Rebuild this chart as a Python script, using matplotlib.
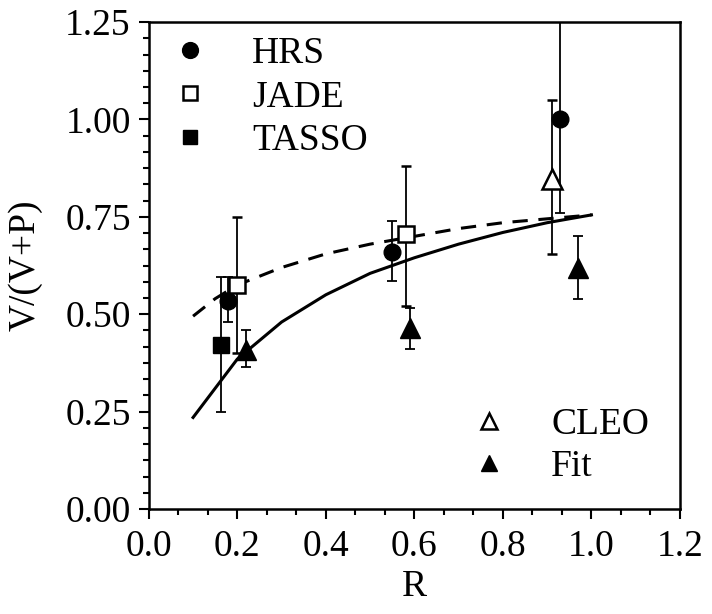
import matplotlib
matplotlib.use('Agg')
import matplotlib.pyplot as plt
from matplotlib.ticker import MultipleLocator, AutoMinorLocator

plt.rcParams['font.family'] = ['Liberation Serif', 'DejaVu Serif']

# data
hrs_r = [0.18, 0.55, 0.93]
hrs_v = [0.535, 0.66, 1.00]
hrs_lo = [0.48, 0.585, 0.76]
hrs_hi = [0.595, 0.74, 1.40]

jade_r = [0.20, 0.58]
jade_v = [0.575, 0.705]
jade_lo = [0.40, 0.52]
jade_hi = [0.75, 0.88]

tasso_r = [0.163]
tasso_v = [0.42]
tasso_lo = [0.25]
tasso_hi = [0.595]

cleo_r = [0.91]
cleo_v = [0.847]
cleo_lo = [0.655]
cleo_hi = [1.05]

fit_r = [0.22, 0.59, 0.97]
fit_v = [0.408, 0.465, 0.62]
fit_lo = [0.365, 0.41, 0.54]
fit_hi = [0.46, 0.515, 0.70]

curve_r = [0.1, 0.15, 0.2, 0.3, 0.4, 0.5, 0.6, 0.7, 0.8, 0.9, 1.0]
solid_v = [0.235, 0.31, 0.385, 0.48, 0.55, 0.605, 0.645, 0.68, 0.71, 0.735, 0.755]
dashed_v = [0.495, 0.54, 0.575, 0.62, 0.655, 0.68, 0.70, 0.72, 0.735, 0.745, 0.755]

fig = plt.figure(figsize=(7.12, 6.14), dpi=100)
ax = fig.add_axes([0.209, 0.171, 0.746, 0.793])

ax.plot(curve_r, solid_v, color='black', lw=2.2)
ax.plot(curve_r, dashed_v, color='black', lw=2.2, dashes=(5, 3.5))


def err(vals, lo, hi):
    return [[v - l for v, l in zip(vals, lo)], [h - v for v, h in zip(vals, hi)]]


eb = dict(ecolor='black', elinewidth=1.3, capsize=3.5, capthick=1.3, ls='none')
h_hrs = ax.errorbar(hrs_r, hrs_v, yerr=err(hrs_v, hrs_lo, hrs_hi), fmt='o', ms=12,
                    mfc='black', mec='black', **eb)
h_jade = ax.errorbar(jade_r, jade_v, yerr=err(jade_v, jade_lo, jade_hi), fmt='s', ms=11,
                     mfc='white', mec='black', mew=1.8, **eb)
h_tasso = ax.errorbar(tasso_r, tasso_v, yerr=err(tasso_v, tasso_lo, tasso_hi), fmt='s', ms=11,
                      mfc='black', mec='black', **eb)
h_cleo = ax.errorbar(cleo_r, cleo_v, yerr=err(cleo_v, cleo_lo, cleo_hi), fmt='^', ms=15,
                     mfc='white', mec='black', mew=1.8, **eb)
h_fit = ax.errorbar(fit_r, fit_v, yerr=err(fit_v, fit_lo, fit_hi), fmt='^', ms=15,
                    mfc='black', mec='black', **eb)

ax.set_xlim(0, 1.2)
ax.set_ylim(0, 1.25)
ax.xaxis.set_major_locator(MultipleLocator(0.2))
ax.xaxis.set_minor_locator(AutoMinorLocator(3))
ax.yaxis.set_major_locator(MultipleLocator(0.25))
ax.yaxis.set_minor_locator(AutoMinorLocator(6))
ax.xaxis.set_major_formatter(plt.FormatStrFormatter('%.1f'))
ax.yaxis.set_major_formatter(plt.FormatStrFormatter('%.2f'))
ax.tick_params(which='both', direction='out', labelsize=27, width=1.5, top=False, right=False)
ax.tick_params(which='major', length=7)
ax.tick_params(which='minor', length=4)
ax.tick_params(axis='x', which='major', pad=8)
ax.tick_params(axis='y', which='major', pad=6)
for s in ax.spines.values():
    s.set_linewidth(1.8)

ax.set_xlabel('R', fontsize=27, labelpad=4)
ax.set_ylabel('V/(V+P)', fontsize=27, labelpad=16)

leg1 = ax.legend([h_hrs[0], h_jade[0], h_tasso[0]], ['HRS', 'JADE', 'TASSO'],
                 loc='upper left', bbox_to_anchor=(0.0245, 0.971), frameon=False,
                 borderaxespad=0, borderpad=0,
                 fontsize=27, handletextpad=0.9, labelspacing=0.25, markerscale=0.95,
                 handlelength=1.5)
ax.add_artist(leg1)
ax.legend([h_cleo[0], h_fit[0]], ['CLEO', 'Fit'], loc='upper left',
          bbox_to_anchor=(0.588, 0.209), frameon=False, borderaxespad=0, borderpad=0,
          fontsize=27, handletextpad=0.9, labelspacing=0.2, markerscale=0.8,
          handlelength=1.5)

fig.savefig('out.png', dpi=100)
